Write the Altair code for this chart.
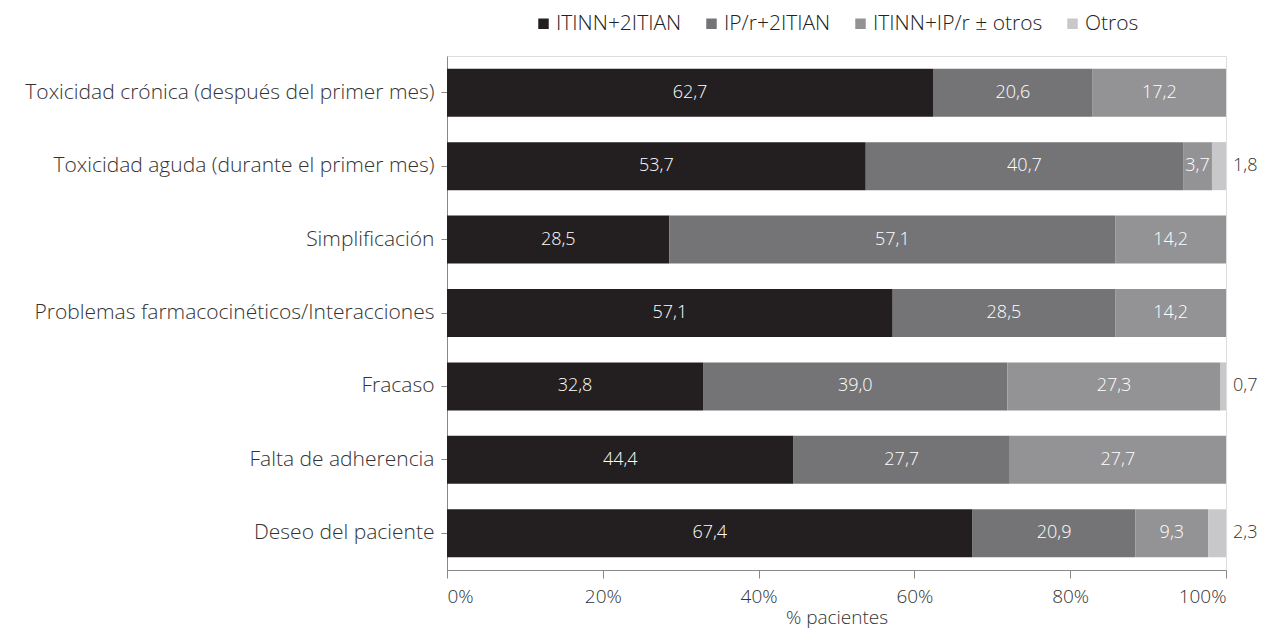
import altair as alt
import pandas as pd

categories = [
    "Toxicidad crónica (después  del primer mes)",
    "Toxicidad aguda (durante el primer mes)",
    "Simplificación",
    "Problemas farmacocinéticos/Interacciones",
    "Fracaso",
    "Falta de adherencia",
    "Deseo del paciente",
]
series_names = ["ITINN+2ITIAN", "IP/r+2ITIAN", "ITINN+IP/r ± otros", "Otros"]
itinn_2itian = [62.7, 53.7, 28.5, 57.1, 32.8, 44.4, 67.4]
ipr_2itian = [20.6, 40.7, 57.1, 28.5, 39.0, 27.7, 20.9]
itinn_ipr = [17.2, 3.7, 14.2, 14.2, 27.3, 27.7, 9.3]
otros = [0.0, 1.8, 0.0, 0.0, 0.7, 0.0, 2.3]
colors = ["#231f20", "#747477", "#939396", "#c8c8ca"]

rows = []
for s_i, (name, vals) in enumerate(zip(series_names, [itinn_2itian, ipr_2itian, itinn_ipr, otros])):
    for cat, v in zip(categories, vals):
        rows.append({"cat": cat, "series": name, "ord": s_i, "value": v,
                     "label": f"{v:.1f}".replace(".", ",")})
df = pd.DataFrame(rows)

FONT = "Liberation Sans"
WFONT = "Open Sans"

base = alt.Chart(df)

y_enc = alt.Y("cat:N", sort=categories, title=None,
              scale=alt.Scale(paddingInner=0.346),
              axis=alt.Axis(labelFontSize=21, labelColor="#333333", labelPadding=7,
                            labelFontWeight=300, labelLimit=600,
                            tickSize=6, tickColor="#888888", domainColor="#888888",
                            labelFont=WFONT))

bars = base.mark_bar().encode(
    x=alt.X("value:Q", stack="normalize", scale=alt.Scale(domain=[0, 1]),
            title="% pacientes",
            axis=alt.Axis(format=".0%", values=[0, 0.2, 0.4, 0.6, 0.8, 1.0], grid=False,
                          tickSize=8, tickColor="#888888", domainColor="#888888",
                          labelFontSize=19, labelColor="#333333", labelPadding=9,
                          labelFontWeight=300,
                          titleFontSize=19, titleFontWeight=300, titleColor="#333333",
                          titleBaseline="alphabetic", titleY=53,
                          labelFont=WFONT, titleFont=WFONT)),
    y=y_enc,
    color=alt.Color("series:N", sort=series_names,
                    scale=alt.Scale(domain=series_names, range=colors),
                    legend=alt.Legend(title=None, orient="none", legendX=86, legendY=-43,
                                      direction="horizontal", symbolType="square",
                                      symbolSize=110, symbolStrokeWidth=0,
                                      labelFontSize=21, labelColor="#222222",
                                      labelFontWeight=300, labelLimit=400,
                                      labelFont=WFONT, columnPadding=19, labelOffset=2)),
    order=alt.Order("ord:Q"),
)

calc = base.transform_joinaggregate(
    total="sum(value)", groupby=["cat"]
).transform_window(
    cum="sum(value)", groupby=["cat"], sort=[alt.SortField("ord")], frame=[None, 0]
).transform_calculate(
    mid="(datum.cum - datum.value/2)/datum.total",
    end="datum.cum/datum.total",
)

inside = calc.transform_filter(
    "datum.series != 'Otros' && datum.value > 0"
).mark_text(color="white", fontSize=18, font=WFONT, fontWeight=300).encode(
    x=alt.X("mid:Q"), y=alt.Y("cat:N", sort=categories), text="label:N"
)

outside = calc.transform_filter(
    "datum.series == 'Otros' && datum.value > 0"
).mark_text(color="#333333", fontSize=18, font=WFONT, fontWeight=300,
            align="left", dx=7).encode(
    x=alt.X("end:Q"), y=alt.Y("cat:N", sort=categories), text="label:N"
)

chart = alt.layer(bars, inside, outside).properties(
    width=779, height=514,
    autosize=alt.AutoSizeParams(type="none"),
    padding={"left": 439, "top": 48, "right": 35, "bottom": 59},
).configure_view(stroke=None).configure(font=FONT)

chart.save("out.html", embed_options={"renderer": "svg", "actions": False})
